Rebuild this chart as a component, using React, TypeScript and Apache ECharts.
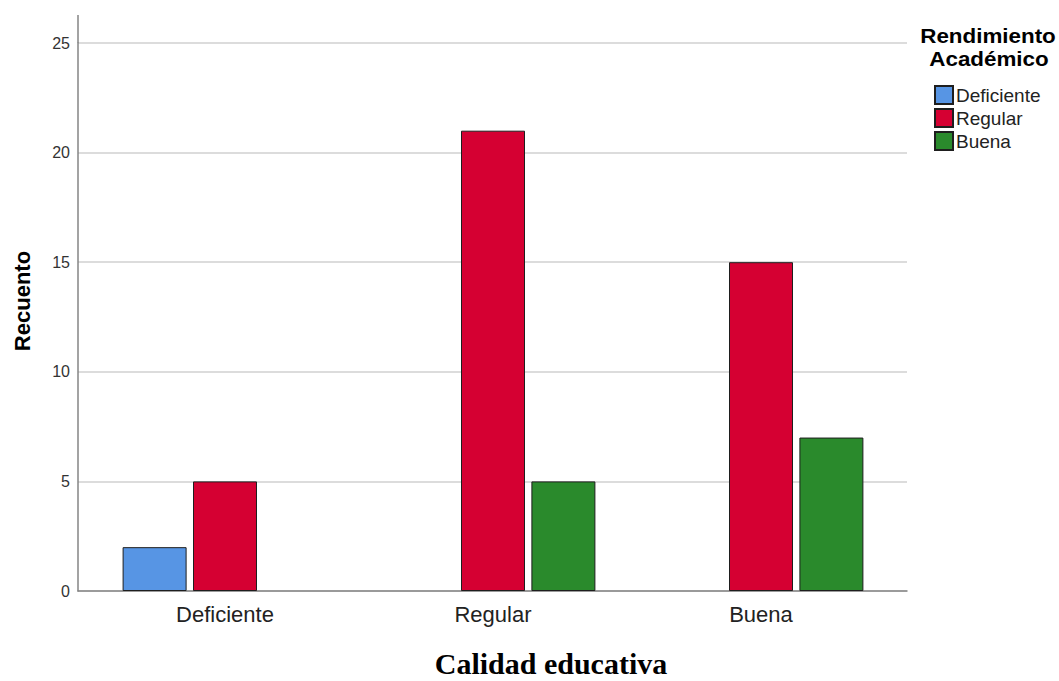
import React, { useEffect, useRef } from "react";
import * as echarts from "echarts";

const categories = ["Deficiente", "Regular", "Buena"];
const seriesNames = ["Deficiente", "Regular", "Buena"];
const deficienteValues: (number | null)[] = [2, null, null];
const regularValues: (number | null)[] = [5, 21, 15];
const buenaValues: (number | null)[] = [null, 5, 7];
const seriesValues = [deficienteValues, regularValues, buenaValues];
const seriesColors = ["#5795E4", "#D50032", "#2A8A2C"];
const yMin = 0;
const yMax = 25;
const yInterval = 5;
const legendTitle = ["Rendimiento", "Académico"];
const yTitle = "Recuento";
const xTitle = "Calidad educativa";

export default function App() {
  const ref = useRef<HTMLDivElement>(null);
  useEffect(() => {
    if (!ref.current) return;
    const chart = echarts.init(ref.current, undefined, { renderer: "svg" });
    const axisColor = "#858585";
    chart.setOption({
      animation: false,
      backgroundColor: "#ffffff",
      textStyle: { fontFamily: "Arial, 'Liberation Sans', sans-serif" },
      grid: [
        { left: 78, right: 152, top: 43, bottom: 90 },
        { left: 91, right: 164, top: 43, bottom: 90 },
      ],
      xAxis: [
        {
          gridIndex: 0,
          type: "value",
          min: 0,
          max: 1,
          axisLine: { show: true, lineStyle: { color: axisColor, width: 1.5 } },
          axisTick: { show: false },
          axisLabel: { show: false },
          splitLine: { show: false },
        },
        {
          gridIndex: 1,
          type: "category",
          data: categories,
          axisLine: { show: false },
          axisTick: { show: false },
          axisLabel: { fontSize: 22, color: "#222", margin: 12 },
          splitLine: { show: false },
        },
      ],
      yAxis: [
        {
          gridIndex: 0,
          type: "value",
          min: yMin,
          max: yMax,
          interval: yInterval,
          axisLine: { show: true, lineStyle: { color: axisColor, width: 1.5 } },
          axisTick: { show: false },
          axisLabel: { fontSize: 16, color: "#333", margin: 8 },
          splitLine: { show: true, lineStyle: { color: "#d0d0d0", width: 1.5 } },
        },
        {
          gridIndex: 1,
          type: "value",
          min: yMin,
          max: yMax,
          show: false,
          splitLine: { show: false },
        },
      ],
      legend: {
        orient: "vertical",
        left: 934,
        top: 85,
        itemWidth: 18,
        itemHeight: 18,
        itemGap: 3,
        padding: 0,
        icon: "rect",
        textStyle: { fontSize: 19, color: "#222", padding: [0, 0, 0, -2] },
        data: seriesNames,
      },
      series: seriesNames.map((name, i) => ({
        name,
        type: "bar",
        xAxisIndex: 1,
        yAxisIndex: 1,
        data: seriesValues[i].map((v) => (v === null ? "-" : v)),
        barWidth: 64,
        barGap: "10%",
        z: 3,
        itemStyle: { color: seriesColors[i], borderColor: "#1e1e1e", borderWidth: 1 },
      })),
      graphic: [
        {
          type: "line",
          shape: { x1: 78, y1: 15, x2: 78, y2: 43 },
          style: { stroke: axisColor, lineWidth: 1.5 },
          z: 5,
        },
        {
          type: "text",
          x: 988,
          y: 36,
          scaleX: 1.12,
          style: {
            text: legendTitle[0],
            fontSize: 20,
            fontWeight: "bold",
            fill: "#000",
            align: "center",
            verticalAlign: "middle",
            fontFamily: "Arial, 'Liberation Sans', sans-serif",
          },
        },
        {
          type: "text",
          x: 989,
          y: 59,
          scaleX: 1.12,
          style: {
            text: legendTitle[1],
            fontSize: 20,
            fontWeight: "bold",
            fill: "#000",
            align: "center",
            verticalAlign: "middle",
            fontFamily: "Arial, 'Liberation Sans', sans-serif",
          },
        },
        {
          type: "text",
          x: 22,
          y: 301,
          rotation: Math.PI / 2,
          style: {
            text: yTitle,
            fontSize: 22,
            fontWeight: "bold",
            fill: "#000",
            align: "center",
            verticalAlign: "middle",
            fontFamily: "Arial, 'Liberation Sans', sans-serif",
          },
        },
        {
          type: "text",
          x: 551,
          y: 663,
          style: {
            text: xTitle,
            fontSize: 30,
            fontWeight: "bold",
            fill: "#000",
            align: "center",
            verticalAlign: "middle",
            fontFamily: "'Liberation Serif', 'Times New Roman', serif",
          },
        },
      ],
    });
    return () => chart.dispose();
  }, []);
  return (
    <div
      ref={ref}
      style={{ position: "fixed", left: 0, top: 0, width: 1059, height: 681 }}
    />
  );
}
